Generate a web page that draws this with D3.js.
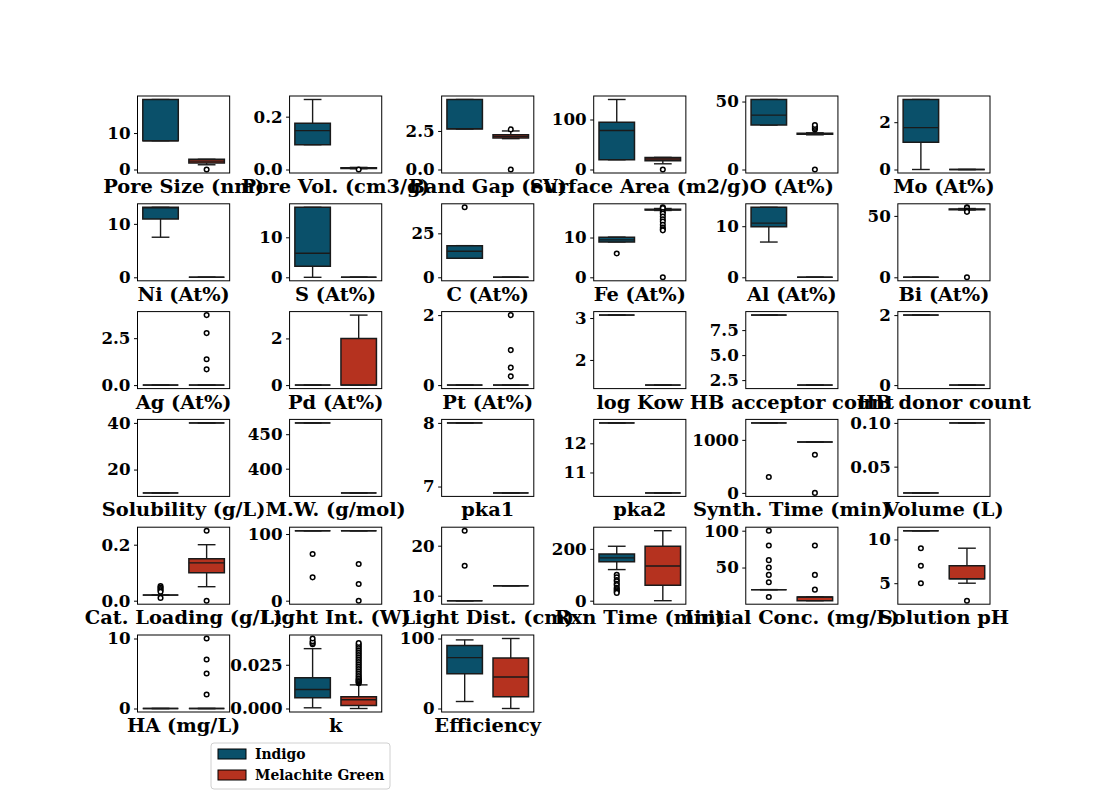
<!DOCTYPE html>
<html>
<head>
<meta charset="utf-8">
<script src="https://cdn.jsdelivr.net/npm/d3@7"></script>
<style>
  body { margin: 0; background: #fff; }
  text { font-family: "DejaVu Serif", serif; font-weight: bold; fill: #000; }
</style>
</head>
<body>
<script>
// boxplot grid: Indigo vs Melachite Green, one panel per feature

var groups = ["Indigo", "Melachite Green"];
var groupColors = ["#0a506a", "#b5321f"];

var panelLabels = ["Pore Size (nm)", "Pore Vol. (cm3/g)", "Band Gap (eV)", "Surface Area (m2/g)", "O (At%)", "Mo (At%)",
  "Ni (At%)", "S (At%)", "C (At%)", "Fe (At%)", "Al (At%)", "Bi (At%)",
  "Ag (At%)", "Pd (At%)", "Pt (At%)", "log Kow", "HB acceptor count", "HB donor count",
  "Solubility (g/L)", "M.W. (g/mol)", "pka1", "pka2", "Synth. Time (min)", "Volume (L)",
  "Cat. Loading (g/L)", "Light Int. (W)", "Light Dist. (cm)", "Rxn Time (min)", "Initial Conc. (mg/L)", "Solution pH",
  "HA (mg/L)", "k", "Efficiency"];

var tickValues = [[0, 10], [0, 0.2], [0, 2.5], [0, 100], [0, 50], [0, 2],
  [0, 10], [0, 10], [0, 25], [0, 10], [0, 10], [0, 50],
  [0, 2.5], [0, 2], [0, 2], [2, 3], [2.5, 5, 7.5], [0, 2],
  [20, 40], [400, 450], [7, 8], [11, 12], [0, 1000], [0.05, 0.1],
  [0, 0.2], [0, 100], [10, 20], [0, 200], [50, 100], [5, 10],
  [0, 10], [0, 0.025], [0, 100]];

var tickLabels = [["0", "10"], ["0.0", "0.2"], ["0.0", "2.5"], ["0", "100"], ["0", "50"], ["0", "2"],
  ["0", "10"], ["0", "10"], ["0", "25"], ["0", "10"], ["0", "10"], ["0", "50"],
  ["0.0", "2.5"], ["0", "2"], ["0", "2"], ["2", "3"], ["2.5", "5.0", "7.5"], ["0", "2"],
  ["20", "40"], ["400", "450"], ["7", "8"], ["11", "12"], ["0", "1000"], ["0.05", "0.10"],
  ["0.0", "0.2"], ["0", "100"], ["10", "20"], ["0", "200"], ["50", "100"], ["5", "10"],
  ["0", "10"], ["0.000", "0.025"], ["0", "100"]];

// [whisker low, q1, median, q3, whisker high]
var indigoStats = [[7.9, 7.9, 7.9, 19.2, 19.2], [0.094, 0.094, 0.147, 0.175, 0.265], [2.63, 2.63, 2.65, 4.54, 4.54],
  [19.5, 19.5, 78, 94.6, 140], [32.7, 32.7, 40, 51.5, 51.5], [0, 1.15, 1.77, 2.96, 2.96],
  [7.5, 10.9, 13.0, 13.1, 13.1], [0, 2.75, 6.0, 17.5, 17.5], [10.8, 10.8, 14.8, 18.0, 18.0],
  [8.9, 8.9, 9.4, 10.1, 10.1], [6.9, 9.9, 10.6, 13.7, 13.7], [0, 0, 0, 0, 0],
  [0, 0, 0, 0, 0], [0, 0, 0, 0, 0], [0, 0, 0, 0, 0],
  [3.07, 3.07, 3.07, 3.07, 3.07], [9, 9, 9, 9, 9], [2, 2, 2, 2, 2],
  [10, 10, 10, 10, 10], [466.4, 466.4, 466.4, 466.4, 466.4], [8, 8, 8, 8, 8],
  [12.7, 12.7, 12.7, 12.7, 12.7], [1320, 1320, 1320, 1320, 1320], [0.02, 0.02, 0.02, 0.02, 0.02],
  [0.02, 0.02, 0.02, 0.02, 0.02], [105, 105, 105, 105, 105], [9, 9, 9, 9, 9],
  [120, 150, 165, 180, 210], [20, 20, 20, 20, 20], [11, 11, 11, 11, 11],
  [0, 0, 0, 0, 0], [0.0004, 0.0061, 0.0109, 0.0176, 0.0342], [10, 49.8, 72.7, 90, 98]];

var indigoFliers = [[], [], [], [], [], [],
  [], [], [39.8], [6.0], [], [],
  [], [], [], [], [], [],
  [], [], [], [], [300], [],
  [0.052, 0.047, 0.042, 0.037, 0.032, 0.01], [70, 35], [23, 16],
  [100, 90, 80, 75, 65, 60, 50, 45, 40, 35, 30], [100, 80, 60, 50, 40, 30, 10], [9, 7, 5],
  [], [0.0367, 0.0375, 0.0385, 0.04], []];

var mgStats = [[1.3, 1.8, 2.3, 2.8, 2.8], [0.003, 0.004, 0.006, 0.007, 0.008], [2.0, 2.04, 2.15, 2.26, 2.5],
  [11.4, 17.4, 21, 24.2, 24.2], [25.5, 25.9, 26.2, 26.6, 27.0], [0, 0, 0, 0, 0],
  [0, 0, 0, 0, 0], [0, 0, 0, 0, 0], [0, 0, 0, 0, 0],
  [16.8, 16.9, 17.0, 17.1, 17.3], [0, 0, 0, 0, 0], [54.8, 55.0, 55.3, 55.6, 56.0],
  [0, 0, 0, 0, 0], [0, 0, 0, 2, 3], [0, 0, 0, 0, 0],
  [1.4, 1.4, 1.4, 1.4, 1.4], [2, 2, 2, 2, 2], [0, 0, 0, 0, 0],
  [40, 40, 40, 40, 40], [364.9, 364.9, 364.9, 364.9, 364.9], [6.9, 6.9, 6.9, 6.9, 6.9],
  [10.3, 10.3, 10.3, 10.3, 10.3], [960, 960, 960, 960, 960], [0.1, 0.1, 0.1, 0.1, 0.1],
  [0.05, 0.1, 0.135, 0.15, 0.2], [105, 105, 105, 105, 105], [12, 12, 12, 12, 12],
  [0, 60, 134, 210, 270], [5, 5, 10, 10, 10], [5, 5.5, 5.5, 7, 9],
  [0, 0, 0, 0, 0], [0, 0.0017, 0.005, 0.0067, 0.0135], [0, 16.7, 45, 72.2, 100]];

var mgFliers = [[0], [0], [2.6, 0], [0], [29.5, 30.5, 31.5, 32.7, 0], [],
  [], [], [], [17.6, 17.4, 16.4, 16.0, 15.3, 14.6, 14.0, 13.2, 12.5, 12.1, 11.8, 0], [], [57.0, 56.6, 54.3, 53.8, 53.3, 0],
  [3.73, 2.77, 1.38, 0.84], [], [2, 1, 0.5, 0.25], [], [], [],
  [], [], [], [], [720, 0], [],
  [0.25, 0], [55, 25, 0], [], [], [80, 40, 20], [3],
  [10, 7, 5, 2],
  [0.0145, 0.015, 0.0155, 0.016, 0.0165, 0.017, 0.0178, 0.0186, 0.0195, 0.0205, 0.0215, 0.0225, 0.0235,
   0.0245, 0.0255, 0.0265, 0.0275, 0.0285, 0.0295, 0.0305, 0.0315, 0.0325, 0.0335, 0.0345, 0.0355, 0.0365, 0.0374],
  []];

// figure layout (matplotlib style subplot params)
var W = 1100, H = 800;
var figLeft = 137.5, figRight = 990, figTop = 96, figBottom = 712;
var ncol = 6, nrow = 6, wspace = 0.65, hspace = 0.4;
var pw = (figRight - figLeft) / (ncol + (ncol - 1) * wspace);
var ph = (figBottom - figTop) / (nrow + (nrow - 1) * hspace);

var svg = d3.select("body").append("svg")
  .attr("width", W)
  .attr("height", H);

var x = d3.scaleBand().domain(groups).range([0, pw]);
var boxW = x.bandwidth() * 0.77;

panelLabels.forEach(function(label, i) {
  var col = i % ncol, row = Math.floor(i / ncol);
  var gx = figLeft + col * pw * (1 + wspace);
  var gy = figTop + row * ph * (1 + hspace);
  var g = svg.append("g").attr("transform", "translate(" + gx + "," + gy + ")");

  var stats = [indigoStats[i], mgStats[i]];
  var fliers = [indigoFliers[i], mgFliers[i]];
  var all = d3.merge(stats.concat(fliers));
  var lo = d3.min(all), hi = d3.max(all);
  var pad = (hi - lo) * 0.05;
  var y = d3.scaleLinear().domain([lo - pad, hi + pad]).range([ph, 0]);

  groups.forEach(function(grp, k) {
    var s = stats[k];
    var cx = x(grp) + x.bandwidth() / 2;
    var x0 = cx - boxW / 2, x1 = cx + boxW / 2;
    var lineCol = "#1a1a1a";

    // whiskers
    g.append("line").attr("x1", cx).attr("x2", cx).attr("y1", y(s[0])).attr("y2", y(s[1]))
      .attr("stroke", lineCol).attr("stroke-width", 1.4);
    g.append("line").attr("x1", cx).attr("x2", cx).attr("y1", y(s[3])).attr("y2", y(s[4]))
      .attr("stroke", lineCol).attr("stroke-width", 1.4);
    // caps
    [s[0], s[4]].forEach(function(v) {
      g.append("line").attr("x1", cx - boxW / 4).attr("x2", cx + boxW / 4)
        .attr("y1", y(v)).attr("y2", y(v))
        .attr("stroke", lineCol).attr("stroke-width", 1.4);
    });
    // box (path so a flat box still shows)
    g.append("path")
      .attr("d", "M" + x0 + "," + y(s[3]) + "H" + x1 + "V" + y(s[1]) + "H" + x0 + "Z")
      .attr("fill", groupColors[k])
      .attr("stroke", lineCol)
      .attr("stroke-width", 1.5);
    // median
    g.append("line").attr("x1", x0).attr("x2", x1).attr("y1", y(s[2])).attr("y2", y(s[2]))
      .attr("stroke", lineCol).attr("stroke-width", 1.4);
    // fliers
    g.selectAll(null).data(fliers[k]).enter().append("circle")
      .attr("cx", cx)
      .attr("cy", function(d) { return y(d); })
      .attr("r", 2.3)
      .attr("fill", "#fff")
      .attr("stroke", "#000")
      .attr("stroke-width", 1.5);
  });

  // frame
  g.append("rect").attr("width", pw).attr("height", ph)
    .attr("fill", "none").attr("stroke", "#000").attr("stroke-width", 1);

  // y axis
  var yAxis = d3.axisLeft(y).tickValues(tickValues[i])
    .tickFormat(function(d, j) { return tickLabels[i][j]; })
    .tickSize(3.5).tickPadding(3.5);
  var ax = g.append("g").call(yAxis);
  ax.select(".domain").remove();
  ax.selectAll("line").attr("stroke", "#000").attr("stroke-width", 1);
  ax.selectAll("text").attr("font-size", 16.7).attr("font-family", "DejaVu Serif").attr("font-weight", "bold");

  // x label
  g.append("text")
    .attr("x", pw / 2)
    .attr("y", ph + 20)
    .attr("text-anchor", "middle")
    .attr("font-size", 19.4)
    .text(label);
});

// legend
var lg = svg.append("g").attr("transform", "translate(211,743)");
lg.append("rect").attr("width", 179).attr("height", 46).attr("rx", 3)
  .attr("fill", "#fff").attr("stroke", "#d0d0d0").attr("stroke-width", 1);
groups.forEach(function(grp, k) {
  lg.append("rect").attr("x", 7).attr("y", 6 + k * 21).attr("width", 28).attr("height", 10)
    .attr("fill", groupColors[k]).attr("stroke", "#000").attr("stroke-width", 1);
  lg.append("text").attr("x", 44).attr("y", 16 + k * 21)
    .attr("font-size", 13.9).text(grp);
});
</script>
</body>
</html>
